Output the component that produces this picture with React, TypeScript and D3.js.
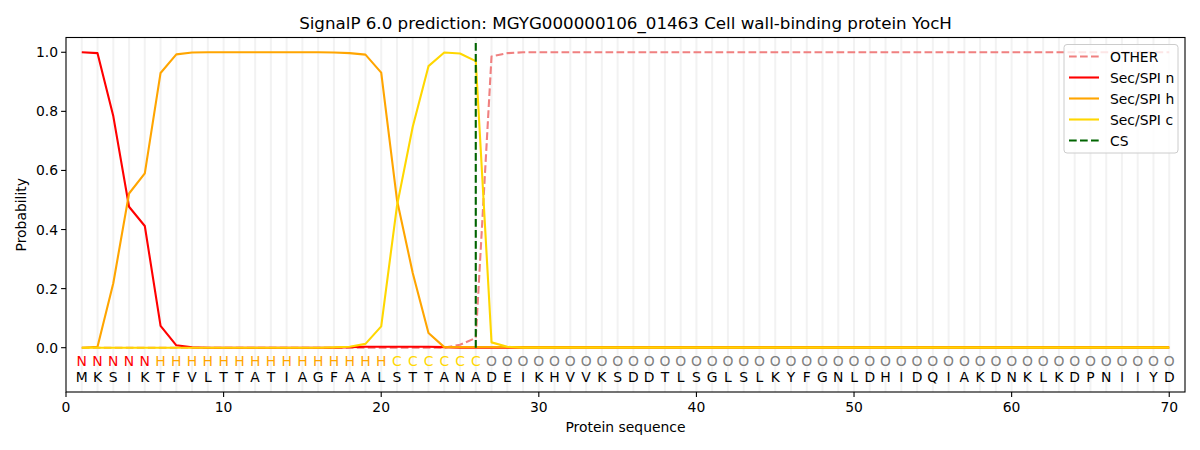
import React from "react";
import * as d3 from "d3";

const positions = d3.range(1, 71);
const sequence = "MKSIKTFVLTTATIAGFAALSTTANADEIKHVVKSDDTLSGLSLKYFGNLDHIDQIAKDNKLKDPNIIYD".split("");
const labels = "NNNNNHHHHHHHHHHHHHHHCCCCCCOOOOOOOOOOOOOOOOOOOOOOOOOOOOOOOOOOOOOOOOOOOO".split("");

const otherProb = [
  0, 0, 0, 0, 0, 0, 0, 0, 0, 0,
  0, 0, 0, 0, 0, 0, 0, 0, 0, 0,
  0, 0, 0, 0, 0.01, 0.033, 0.986, 0.997, 1, 1,
  ...new Array(40).fill(1),
];
const secN = [
  1.0, 0.997, 0.784, 0.477, 0.412, 0.074, 0.008, 0.001, 0, 0,
  0, 0, 0, 0, 0, 0, 0, 0.002, 0.003, 0.003,
  0.003, 0.003, 0.003, 0.002, 0, 0, 0, 0, 0, 0,
  ...new Array(40).fill(0),
];
const secH = [
  0, 0.003, 0.218, 0.522, 0.59, 0.93, 0.993, 0.999, 1, 1,
  1, 1, 1, 1, 1, 1, 0.999, 0.997, 0.992, 0.931,
  0.5, 0.253, 0.05, 0.002, 0.002, 0.002, 0.002, 0.002, 0.002, 0.002,
  ...new Array(40).fill(0.002),
];
const secC = [
  0, 0, 0, 0, 0, 0, 0, 0, 0, 0,
  0, 0, 0, 0, 0, 0, 0.001, 0.003, 0.013, 0.072,
  0.48, 0.748, 0.953, 0.999, 0.996, 0.97, 0.018, 0.003, 0, 0,
  ...new Array(40).fill(0),
];
const csPosition = 26;
const csTop = 1.035;
const xTicks = [0, 10, 20, 30, 40, 50, 60, 70];
const yTicks = [0, 0.2, 0.4, 0.6, 0.8, 1.0];

const labelColor: Record<string, string> = { N: "#ff0000", H: "#ffa500", C: "#ffd700", O: "#808080" };

const series = [
  { name: "OTHER", values: otherProb, color: "#f08080", dash: "7.7,3.3" },
  { name: "Sec/SPI n", values: secN, color: "#ff0000", dash: null },
  { name: "Sec/SPI h", values: secH, color: "#ffa500", dash: null },
  { name: "Sec/SPI c", values: secC, color: "#ffd700", dash: null },
];

export default function App() {
  const W = 1200, H = 450;
  const L = 66, R = 1185, T = 37.5, B = 392;
  const x = d3.scaleLinear().domain([0, 71]).range([L, R]);
  const y = d3.scaleLinear().domain([-0.15, 1.05]).range([B, T]);
  const font = "DejaVu Sans, sans-serif";
  const fs = 13.9;
  const line = d3.line<number>().x((_, i) => x(positions[i])).y((d) => y(d));

  const legendItems = [
    ...series.map((s) => ({ name: s.name, color: s.color, dash: s.dash })),
    { name: "CS", color: "#006400", dash: "7.7,3.3" },
  ];

  return (
    <svg width={W} height={H} style={{ position: "absolute", left: 0, top: 0, background: "#fff" }} fontFamily={font}>
      <rect x={0} y={0} width={W} height={H} fill="#fff" />
      {positions.map((p) => (
        <line key={"g" + p} x1={x(p)} x2={x(p)} y1={T} y2={B} stroke="#808080" strokeOpacity={0.1} strokeWidth={2} />
      ))}
      {series.map((s) => (
        <path key={s.name} d={line(s.values) || ""} fill="none" stroke={s.color} strokeWidth={2.1}
          strokeDasharray={s.dash || undefined} strokeLinejoin="round" />
      ))}
      <line x1={x(csPosition)} x2={x(csPosition)} y1={y(0)} y2={y(csTop)} stroke="#006400" strokeWidth={2.1} strokeDasharray="7.7,3.3" />
      {positions.map((p, i) => (
        <text key={"l" + p} x={x(p)} y={366} fontSize={fs} textAnchor="middle" fill={labelColor[labels[i]]}>{labels[i]}</text>
      ))}
      {positions.map((p, i) => (
        <text key={"s" + p} x={x(p)} y={382} fontSize={fs} textAnchor="middle" fill="#000">{sequence[i]}</text>
      ))}
      <rect x={L} y={T} width={R - L} height={B - T} fill="none" stroke="#000" strokeWidth={1.1} />
      {xTicks.map((t) => (
        <g key={"xt" + t}>
          <line x1={x(t)} x2={x(t)} y1={B} y2={B + 4.9} stroke="#000" strokeWidth={1.1} />
          <text x={x(t)} y={412} fontSize={fs} textAnchor="middle">{t}</text>
        </g>
      ))}
      {yTicks.map((t) => (
        <g key={"yt" + t}>
          <line x1={L} x2={L - 4.9} y1={y(t)} y2={y(t)} stroke="#000" strokeWidth={1.1} />
          <text x={58} y={y(t) + 5} fontSize={fs} textAnchor="end">{t.toFixed(1)}</text>
        </g>
      ))}
      <text x={(L + R) / 2} y={432} fontSize={fs} textAnchor="middle">Protein sequence</text>
      <text transform={`translate(26,${(T + B) / 2}) rotate(-90)`} fontSize={fs} textAnchor="middle">Probability</text>
      <text x={(L + R) / 2} y={29} fontSize={16.7} textAnchor="middle">SignalP 6.0 prediction: MGYG000000106_01463 Cell wall-binding protein YocH</text>
      <g>
        <rect x={1064} y={44.5} width={114} height={108.5} rx={3} fill="#fff" fillOpacity={0.8} stroke="#cccccc" strokeWidth={1} />
        {legendItems.map((it, i) => {
          const cy = 56.5 + i * 21;
          return (
            <g key={"lg" + it.name}>
              <line x1={1069} x2={1099} y1={cy} y2={cy} stroke={it.color} strokeWidth={2.1} strokeDasharray={it.dash || undefined} />
              <text x={1110} y={cy + 5} fontSize={fs}>{it.name}</text>
            </g>
          );
        })}
      </g>
    </svg>
  );
}
